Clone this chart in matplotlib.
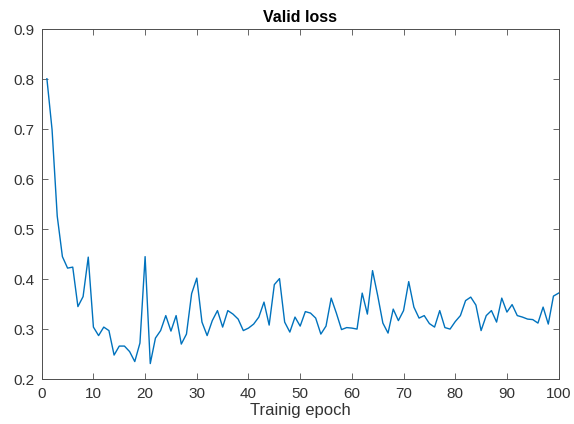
import matplotlib
matplotlib.use("Agg")
import matplotlib.pyplot as plt
import numpy as np

# validation loss per epoch
epochs = np.arange(1, 101)
valid_loss = [
    0.801, 0.699, 0.526, 0.445, 0.422, 0.424, 0.345, 0.365, 0.444, 0.304,
    0.287, 0.304, 0.297, 0.248, 0.266, 0.266, 0.255, 0.235, 0.272, 0.445,
    0.231, 0.282, 0.297, 0.327, 0.296, 0.327, 0.270, 0.290, 0.371, 0.402,
    0.314, 0.287, 0.317, 0.337, 0.304, 0.337, 0.330, 0.320, 0.297, 0.302,
    0.310, 0.324, 0.354, 0.308, 0.389, 0.401, 0.314, 0.294, 0.324, 0.306,
    0.335, 0.332, 0.322, 0.290, 0.306, 0.362, 0.332, 0.299, 0.303, 0.302,
    0.300, 0.372, 0.330, 0.417, 0.367, 0.312, 0.292, 0.340, 0.317, 0.337,
    0.395, 0.344, 0.322, 0.327, 0.311, 0.304, 0.337, 0.303, 0.300, 0.315,
    0.327, 0.357, 0.364, 0.348, 0.297, 0.327, 0.337, 0.314, 0.362, 0.334,
    0.349, 0.327, 0.324, 0.320, 0.319, 0.312, 0.344, 0.310, 0.366, 0.372,
]

plt.rcParams["font.family"] = ["Liberation Sans", "DejaVu Sans"]

fig = plt.figure(figsize=(5.74, 4.24), dpi=100)
ax = fig.add_axes([0.0727, 0.106, 0.9005, 0.825])

ax.plot(epochs, valid_loss, color="#0072BD", linewidth=1.0)

ax.set_xlim(0, 100)
ax.set_ylim(0.2, 0.9)
ax.set_xticks(np.arange(0, 101, 10))
ax.set_yticks(np.arange(0.2, 0.91, 0.1))
ax.set_yticklabels([f"{v:.1f}" for v in np.arange(0.2, 0.91, 0.1)])

ax.tick_params(direction="in", top=True, right=True, length=4,
               width=0.6, color="#4d4d4d", labelcolor="#333333", labelsize=11)
ax.tick_params(axis="x", pad=6)
ax.tick_params(axis="y", pad=5)
for s in ax.spines.values():
    s.set_color("#4d4d4d")
    s.set_linewidth(0.7)

ax.set_title("Valid loss", fontsize=11.5, fontweight="bold", pad=5)
ax.set_xlabel("Trainig epoch", fontsize=12, color="#333333", labelpad=1)

fig.savefig("out.png", dpi=100)
